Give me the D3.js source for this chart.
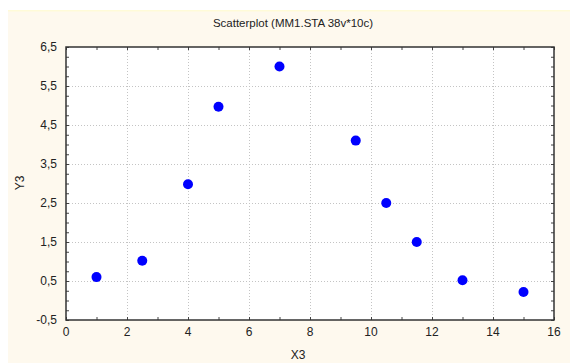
<!DOCTYPE html>
<html>
<head>
<meta charset="utf-8">
<script src="https://cdn.jsdelivr.net/npm/d3@7"></script>
<style>
  html, body { margin: 0; padding: 0; background: #fff; }
  text { font-family: "Liberation Sans", Arial, sans-serif; fill: #222; }
</style>
</head>
<body>
<svg id="chart" width="570" height="363"></svg>
<script>
// values
const xValues = [1, 2.5, 4, 5, 7, 9.5, 10.5, 11.5, 13, 15];
const yValues = [0.6, 1.02, 2.98, 4.97, 6.0, 4.1, 2.5, 1.5, 0.52, 0.22];
const xTicks = [0, 2, 4, 6, 8, 10, 12, 14, 16];
const yTicks = [-0.5, 0.5, 1.5, 2.5, 3.5, 4.5, 5.5, 6.5];
const xMinor = d3.range(0, 16.01, 1);
const yMinor = d3.range(-0.5, 6.51, 0.25);

const width = 570;
const height = 363;
const margin = { top: 47, right: 16, bottom: 43, left: 66 };

const svg = d3.select('#chart');

// cream panel behind everything
svg.append('rect')
    .attr('x', 8).attr('y', 10)
    .attr('width', width - 8).attr('height', height - 10)
    .attr('fill', '#fef9ee');
svg.append('rect')
    .attr('x', 8).attr('y', 10)
    .attr('width', width - 8).attr('height', 1.5)
    .attr('fill', '#fffbd8');

const x = d3.scaleLinear().domain([0, 16]).range([margin.left, width - margin.right]);
const y = d3.scaleLinear().domain([-0.5, 6.5]).range([height - margin.bottom, margin.top]);

svg.append('rect')
    .attr('x', x(0)).attr('y', y(6.5))
    .attr('width', x(16) - x(0)).attr('height', y(-0.5) - y(6.5))
    .attr('fill', '#fff');

// dotted grid
const grid = svg.append('g').attr('stroke', '#c4c4c4').attr('stroke-dasharray', '1,2').attr('stroke-width', 1);
grid.selectAll('.gx').data(xTicks.slice(1, -1)).enter().append('line')
    .attr('x1', (d) => Math.round(x(d)) + 0.5).attr('x2', (d) => Math.round(x(d)) + 0.5)
    .attr('y1', y(6.5)).attr('y2', y(-0.5));
grid.selectAll('.gy').data(yTicks.slice(1, -1)).enter().append('line')
    .attr('y1', (d) => Math.round(y(d)) + 0.5).attr('y2', (d) => Math.round(y(d)) + 0.5)
    .attr('x1', x(0)).attr('x2', x(16));

// axes with inward ticks on all four sides
const tickLen = 3;
svg.append('g')
    .attr('transform', `translate(0,${y(-0.5)})`)
    .call(d3.axisTop(x).tickValues(xMinor).tickSize(tickLen).tickFormat(''));
svg.append('g')
    .attr('transform', `translate(0,${y(6.5)})`)
    .call(d3.axisBottom(x).tickValues(xMinor).tickSize(tickLen).tickFormat(''));
svg.append('g')
    .attr('transform', `translate(${x(0)},0)`)
    .call(d3.axisRight(y).tickValues(yMinor).tickSize(tickLen).tickFormat(''));
svg.append('g')
    .attr('transform', `translate(${x(16)},0)`)
    .call(d3.axisLeft(y).tickValues(yMinor).tickSize(tickLen).tickFormat(''));
svg.selectAll('.domain').remove();
svg.selectAll('.tick line').attr('stroke', '#444');

// frame
svg.append('rect')
    .attr('x', x(0)).attr('y', y(6.5))
    .attr('width', x(16) - x(0)).attr('height', y(-0.5) - y(6.5))
    .attr('fill', 'none').attr('stroke', '#333').attr('stroke-width', 1.5);

// tick labels
const fmt = (d) => String(d).replace('.', ',');
svg.append('g').selectAll('text').data(xTicks).enter().append('text')
    .attr('x', (d) => x(d)).attr('y', y(-0.5) + 16)
    .attr('text-anchor', 'middle').attr('font-size', 12)
    .text(fmt);
svg.append('g').selectAll('text').data(yTicks).enter().append('text')
    .attr('x', x(0) - 9).attr('y', (d) => y(d) + 4)
    .attr('text-anchor', 'end').attr('font-size', 12)
    .text(fmt);

// titles
svg.append('text')
    .attr('x', 293).attr('y', 27)
    .attr('text-anchor', 'middle').attr('font-size', 11.5)
    .text('Scatterplot (MM1.STA 38v*10c)');
svg.append('text')
    .attr('x', 298).attr('y', 359)
    .attr('text-anchor', 'middle').attr('font-size', 12)
    .text('X3');
svg.append('text')
    .attr('transform', 'translate(24,183) rotate(-90)')
    .attr('text-anchor', 'middle').attr('font-size', 12)
    .text('Y3');

// points
svg.append('g').selectAll('circle').data(xValues).enter().append('circle')
    .attr('cx', (d) => x(d)).attr('cy', (d, i) => y(yValues[i]))
    .attr('r', 5)
    .attr('fill', '#0000ff');
</script>
</body>
</html>
